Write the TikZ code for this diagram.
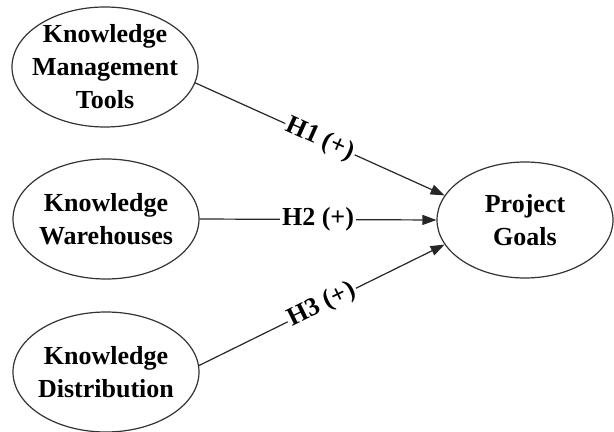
\documentclass[tikz,border=0pt]{standalone}
\usepackage{fontspec}
\setmainfont{Liberation Serif}
\usetikzlibrary{shapes.geometric, arrows.meta}

\begin{document}
\begin{tikzpicture}[
    x=0.5pt, y=-0.5pt,
    construct/.style={ellipse, draw=black!80, line width=0.6pt, inner sep=0pt, minimum width=93pt, minimum height=60pt},
    outcome/.style={construct, minimum width=88pt, minimum height=58pt},
    txt/.style={align=center, font=\fontsize{13}{16.5}\selectfont\bfseries},
    hyp/.style={draw=black!85, line width=0.6pt, -{Triangle[length=7pt, width=5pt]}},
    hlabel/.style={midway, sloped, fill=white, inner sep=1pt, font=\fontsize{13}{15}\selectfont\bfseries}
]
    \useasboundingbox (0,0) rectangle (614,432);

    % --- constructs ---
    \node [construct, label={[txt]center:Knowledge\\Management\\Tools}] (kmtools) at (105,67) {};
    \node [construct, label={[txt]center:Knowledge\\Warehouses}] (kwarehouse) at (106,219) {};
    \node [construct, label={[txt]center:Knowledge\\Distribution}] (kdistrib) at (106,372) {};
    \node [outcome, label={[txt]center:Project\\Goals}] (pgoals) at (525,220) {};

    % --- hypotheses ---
    \draw [hyp] (kmtools.-10) -- node [hlabel] {H1 (+)} (pgoals.163);
    \draw [hyp] (kwarehouse.east) -- node [hlabel] {H2 (+)} (pgoals.west);
    \draw [hyp] (kdistrib.4) -- node [hlabel] {H3 (+)} (pgoals.197);

\end{tikzpicture}
\end{document}
